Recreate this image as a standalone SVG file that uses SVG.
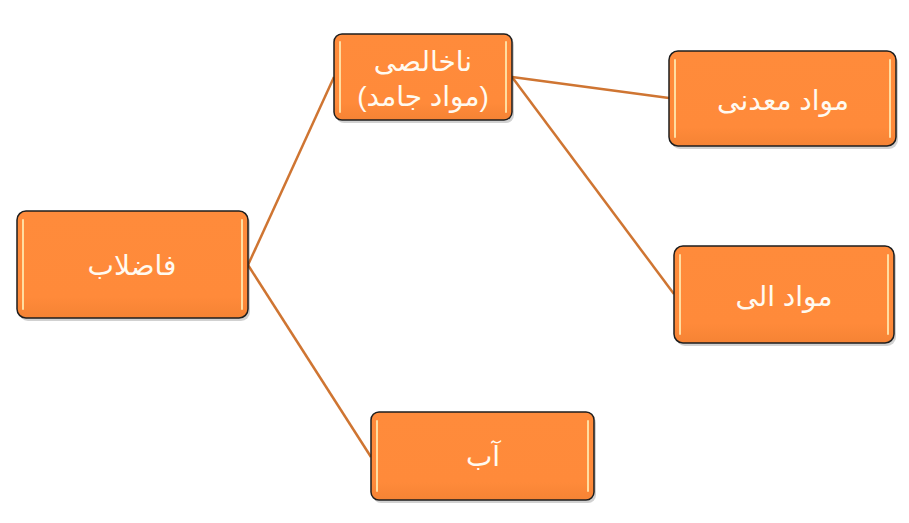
<svg xmlns="http://www.w3.org/2000/svg" width="909" height="523" viewBox="0 0 909 523">
<style>
.box{fill:url(#g);stroke:#1e1e1e;stroke-width:1.5}
.sh{fill:#000;opacity:0.18}
.hl{stroke:#FFDDA0;stroke-width:2;stroke-linecap:round}
.t{font-family:"Liberation Sans","DejaVu Sans",Arial,sans-serif;font-size:28px;fill:#FFFAF0;text-anchor:middle}
.c{stroke:#CF7532;stroke-width:2.5;fill:none}
</style>
<defs>
<linearGradient id="g" x1="0" y1="0" x2="0" y2="1">
<stop offset="0" stop-color="#FF8B3B"/>
<stop offset="0.8" stop-color="#FF8A3A"/>
<stop offset="1" stop-color="#F58334"/>
</linearGradient>
</defs>
<rect width="909" height="523" fill="#fff"/>
<g id="connectors">
<line class="c" x1="248" y1="265" x2="334" y2="77"/>
<line class="c" x1="248" y1="265" x2="371" y2="457"/>
<line class="c" x1="512" y1="77" x2="669" y2="98"/>
<line class="c" x1="512" y1="77" x2="674" y2="294"/>
</g>
<g id="n1">
<rect class="sh" x="19" y="214" width="231" height="107" rx="9"/>
<rect class="box" x="17" y="211" width="231" height="107" rx="9"/>
<line class="hl" x1="23" y1="220" x2="23" y2="309"/>
<line class="hl" x1="242" y1="220" x2="242" y2="309"/>
<text class="t" x="132" y="275">فاضلاب</text>
</g>
<g id="n2">
<rect class="sh" x="336" y="37" width="178" height="86" rx="8"/>
<rect class="box" x="334" y="34" width="178" height="86" rx="8"/>
<line class="hl" x1="340" y1="42" x2="340" y2="112"/>
<line class="hl" x1="506" y1="42" x2="506" y2="112"/>
<text class="t" x="423" y="71">ناخالصی</text>
<text class="t" x="423" y="106">(مواد جامد)</text>
</g>
<g id="n3">
<rect class="sh" x="671" y="54" width="227" height="95" rx="9"/>
<rect class="box" x="669" y="51" width="227" height="95" rx="9"/>
<line class="hl" x1="675" y1="60" x2="675" y2="137"/>
<line class="hl" x1="890" y1="60" x2="890" y2="137"/>
<text class="t" x="783" y="110">مواد معدنی</text>
</g>
<g id="n4">
<rect class="sh" x="676" y="249" width="220" height="97" rx="9"/>
<rect class="box" x="674" y="246" width="220" height="97" rx="9"/>
<line class="hl" x1="680" y1="255" x2="680" y2="334"/>
<line class="hl" x1="888" y1="255" x2="888" y2="334"/>
<text class="t" x="784" y="306">مواد الی</text>
</g>
<g id="n5">
<rect class="sh" x="373" y="415" width="223" height="88" rx="8"/>
<rect class="box" x="371" y="412" width="223" height="88" rx="8"/>
<line class="hl" x1="377" y1="421" x2="377" y2="491"/>
<line class="hl" x1="588" y1="421" x2="588" y2="491"/>
<text class="t" x="483" y="466">آب</text>
</g>
</svg>
